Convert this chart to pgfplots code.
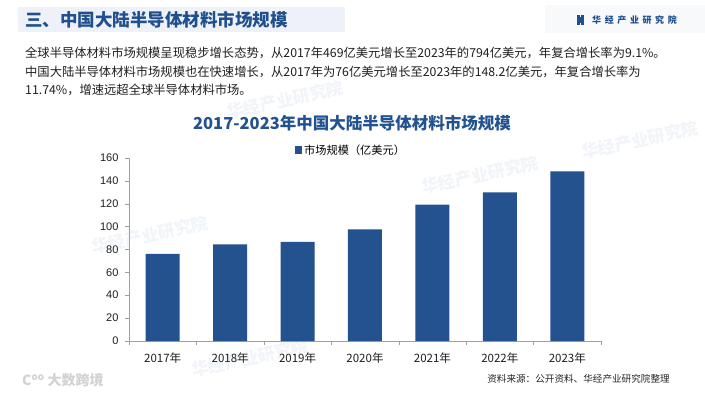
\documentclass[border=0pt]{standalone}
\usepackage{pgfplots}
\pgfplotsset{compat=1.18}
\usepackage{fontspec}
\setmainfont{Liberation Sans}
\newfontfamily\cjk{Noto Sans CJK SC}
\definecolor{barblue}{HTML}{24528E}
\definecolor{titleblue}{HTML}{22528F}
\definecolor{headblue}{HTML}{1F4F8D}
\definecolor{bandbg}{HTML}{EEF2F8}
\definecolor{axisgray}{HTML}{A0A0A0}

\begin{document}
\begin{tikzpicture}[x=1pt,y=1pt]
\useasboundingbox (0,0) rectangle (705,392);
\fill[white] (0,0) rectangle (705,392);
% header band
\fill[bandbg] (18,360) rectangle (345,385);
\node[anchor=west, inner sep=0pt, font=\cjk\bfseries\fontsize{17.5}{18}\selectfont, text=headblue] at (25,372.5) {三、中国大陆半导体材料市场规模};
% logo
\fill[bandbg!50] (545,359) rectangle (705,387);
\fill[headblue] (577,367) rectangle (579.5,377);
\fill[headblue] (581,367) rectangle (583.5,377);
\fill[headblue] (579.5,369) rectangle (581,375);
\node[anchor=west, inner sep=0pt, font=\cjk\bfseries\fontsize{9}{10}\selectfont, text=headblue] at (592,372) {华\hspace{3.6pt}经\hspace{3.6pt}产\hspace{3.6pt}业\hspace{3.6pt}研\hspace{3.6pt}究\hspace{3.6pt}院};
% faint watermarks
\foreach \px/\py in {285/292, 640/252, 480/217, 150/157, 250/34} {
  \node[rotate=12, opacity=0.06, font=\cjk\bfseries\fontsize{17}{18}\selectfont, text=headblue] at (\px,\py) {华经产业研究院};
}
\node[anchor=west, inner sep=0pt, opacity=0.35, font=\cjk\bfseries\fontsize{14}{15}\selectfont, text=gray] at (22,12) {C\textsuperscript{oo} 大数跨境};
% paragraph
\node[anchor=west, inner sep=0pt, font=\cjk\fontsize{12.3}{14}\selectfont, text=black!88] at (25,338.7) {全球半导体材料市场规模呈现稳步增长态势，从2017年469亿美元增长至2023年的794亿美元，年复合增长率为9.1\%。};
\node[anchor=west, inner sep=0pt, font=\cjk\fontsize{12.3}{14}\selectfont, text=black!88] at (25,320.3) {中国大陆半导体材料市场规模也在快速增长，从2017年为76亿美元增长至2023年的148.2亿美元，年复合增长率为};
\node[anchor=west, inner sep=0pt, font=\cjk\fontsize{12.3}{14}\selectfont, text=black!88] at (25,302) {11.74\%，增速远超全球半导体材料市场。};
% chart title
\node[inner sep=0pt, font=\cjk\bfseries\fontsize{16.5}{18}\selectfont, text=titleblue] at (352,269) {2017-2023年中国大陆半导体材料市场规模};
% source
\node[inner sep=0pt, font=\cjk\fontsize{9.6}{11}\selectfont, text=black!85] at (578.5,13) {资料来源：公开资料、华经产业研究院整理};

\begin{axis}[
  at={(129pt,51pt)}, anchor=south west,
  scale only axis, width=472pt, height=183.2pt,
  xmin=-0.5, xmax=6.5, ymin=0, ymax=160,
  axis x line*=bottom, axis y line*=left,
  axis line style={draw=axisgray, -},
  tick style={draw=axisgray},
  tick align=outside, major tick length=4pt,
  ytick={0,20,...,160},
  xtick={-0.5,0.5,...,6.5}, xticklabels={},
  extra x ticks={0,1,2,3,4,5,6},
  extra x tick labels={2017年,2018年,2019年,2020年,2021年,2022年,2023年},
  extra x tick style={major tick length=0pt},
  xticklabel style={font=\cjk\fontsize{11.5}{12}\selectfont, text=black!88, yshift=-8pt},
  yticklabel style={font=\fontsize{11}{12}\selectfont, text=black!88, xshift=-3pt},
  /pgf/number format/assume math mode=true,
  legend style={at={(0.470,1.042)}, anchor=center, draw=none, fill=none,
    font=\cjk\fontsize{11.2}{12}\selectfont, inner sep=0pt,
    legend cell align=left},
]
\addplot[ybar, bar width=34pt, fill=barblue, draw=none,
  legend image code/.code={\fill[barblue] (0pt,-3.7pt) rectangle (7.6pt,3.7pt);}]
  coordinates {(0,76) (1,84.4) (2,86.6) (3,97.6) (4,119) (5,129.7) (6,148.2)};
\addlegendentry{市场规模（亿美元）}
\end{axis}
\end{tikzpicture}
\end{document}
